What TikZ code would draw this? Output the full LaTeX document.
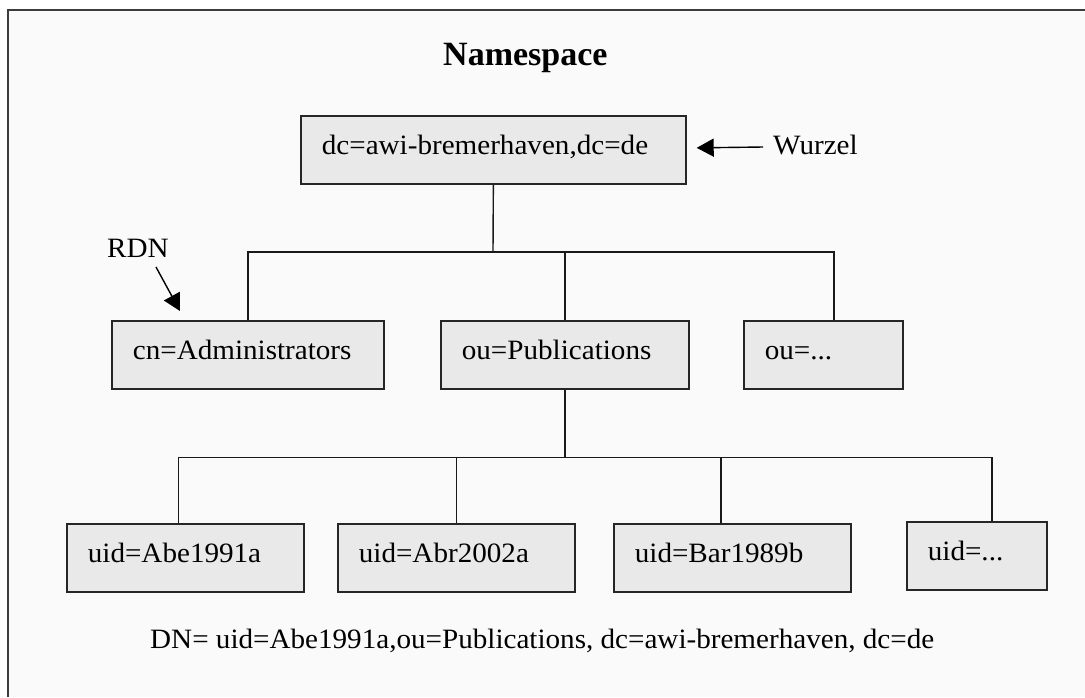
\documentclass[tikz,border=0pt]{standalone}
\usepackage{fontspec}
\setmainfont{Liberation Serif}
\newfontfamily\lblfam[FakeStretch=1.04]{Liberation Serif}
\usetikzlibrary{arrows.meta,calc}
\definecolor{bggray}{RGB}{250,250,250}
\definecolor{boxgray}{RGB}{233,233,233}
\definecolor{framegray}{RGB}{60,60,60}
\begin{document}
\begin{tikzpicture}[x=1pt,y=-1pt,
  lbl/.style={font=\lblfam\fontsize{28}{32}\selectfont, inner sep=0pt},
  entry/.style={draw=black!85, fill=boxgray, line width=1.7pt, minimum height=68pt,
    text height=15pt, text depth=5pt, inner xsep=21pt, inner ysep=0pt,
    align=left, anchor=north west, font=\lblfam\fontsize{28}{32}\selectfont},
  link/.style={line width=1.4pt, draw=black!90},
  pointer/.style={line width=1.4pt, draw=black, -{Triangle[length=17pt,width=18pt]}}]
\useasboundingbox (0,0) rectangle (1085,697);
\fill[bggray] (8,10) rectangle (1085,697);
\draw[framegray, line width=2pt] (8,697) -- (8,10) -- (1085,10);

\node[font=\bfseries\fontsize{34}{40}\selectfont, inner sep=0pt, anchor=base west] (title) at (443,65) {Namespace};

% level 0
\node[entry, text width=343pt] (root) at (300,115) {dc=awi-bremerhaven,dc=de};
% level 1
\node[entry, text width=230pt] (cn) at (111,320) {cn=Administrators};
\node[entry, text width=206pt] (ouP) at (440,320) {ou=Publications};
\node[entry, text width=117pt] (ouE) at (743,320) {ou=...};
% level 2
\node[entry, text width=195pt] (u1) at (66,523) {uid=Abe1991a};
\node[entry, text width=195pt] (u2) at (337,523) {uid=Abr2002a};
\node[entry, text width=195pt] (u3) at (613,523) {uid=Bar1989b};
\node[entry, text width=98pt] (u4) at (906,521) {uid=...};

% labels
\node[lbl, anchor=base west] (wurzel) at (773,154) {Wurzel};
\node[lbl, anchor=base west] (rdn) at (107,257) {RDN};
\node[lbl, anchor=base west] (dn) at (150,648) {DN= uid=Abe1991a,ou=Publications, dc=awi-bremerhaven, dc=de};

% connectors level 0 -> 1
\coordinate (j1) at (493,252);
\coordinate (t1e) at ([xshift=10.5pt]ouE.north);
\draw[link] (root.south) -- (j1);
\draw[link] (cn.north) |- (j1) -| (t1e);
\draw[link] (j1 -| ouP.north) -- (ouP.north);

% connectors level 1 -> 2
\coordinate (j2) at ($(ouP.south)+(0,68)$);
\coordinate (t21) at ([xshift=-7pt]u1.north);
\coordinate (t23) at ([xshift=-11.5pt]u3.north);
\coordinate (t24) at ([xshift=15pt]u4.north);
\draw[link] (ouP.south) -- (j2);
\draw[link] (t21) |- (j2) -| (t24);
\draw[link] (j2 -| u2.north) -- (u2.north);
\draw[link] (t23 |- j2) -- (t23);

% pointers
\draw[pointer] ([xshift=-10pt,yshift=7pt]wurzel.base west) -- ([xshift=10pt,yshift=2pt]root.east);
\draw[pointer] ([xshift=49pt,yshift=-10pt]rdn.base west) -- ([xshift=69pt,yshift=9pt]cn.north west);
\end{tikzpicture}
\end{document}
